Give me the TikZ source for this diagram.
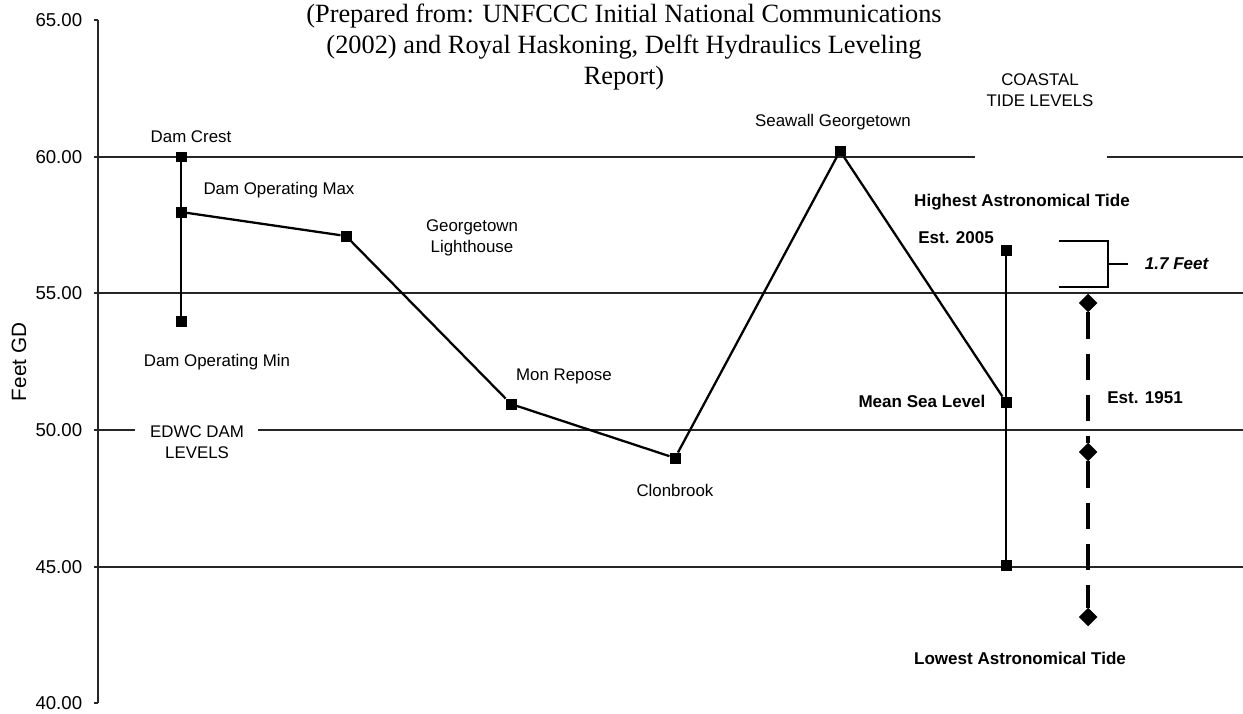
\documentclass[tikz,border=0pt]{standalone}
\usepackage{fontspec}
\setmainfont{Liberation Serif}
\setsansfont{Liberation Sans}
\usetikzlibrary{positioning}
\usetikzlibrary{shapes.geometric}

\begin{document}
\begin{tikzpicture}[x=0.02cm,y=-0.02cm,
    every node/.style={inner sep=0.5,outer sep=0,font=\sffamily\fontsize{9.6}{12.3}\selectfont},
    sq/.style={fill=black,minimum size=0.22cm,inner sep=0},
    dia/.style={diamond,fill=black,minimum size=0.37cm,inner sep=0},
    bold/.style={font=\sffamily\bfseries\fontsize{9.7}{12}\selectfont},
    ticklbl/.style={anchor=east,font=\sffamily\fontsize{10.6}{12}\selectfont},
    grid/.style={line width=0.7pt,black!85},
    series/.style={line width=1.3pt}]
    \useasboundingbox (0,0) rectangle (1243,713);

    % axis, ticks and grid
    \draw[grid] (98,20) -- (98,703);
    \foreach \v/\py in {65.00/20,60.00/157,55.00/293,50.00/430,45.00/567,40.00/703}{
        \draw[grid] (94,\py) -- (98,\py);
        \node[ticklbl] at (83,\py) {\v};
    }
    \draw[grid] (98,157) -- (975,157) (1107,157) -- (1243,157);
    \draw[grid] (98,293) -- (1243,293);
    \draw[grid] (98,430) -- (135,430) (258,430) -- (1243,430);
    \draw[grid] (98,567) -- (1243,567);
    \node[rotate=90,font=\sffamily\fontsize{11.8}{12}\selectfont] (yax) at (19,362) {Feet GD};

    % title
    \node[align=center,font=\rmfamily\fontsize{15}{17.6}\selectfont] (title) at (624,47)
        {(Prepared from: UNFCCC Initial National Communications\\
         (2002) and Royal Haskoning, Delft Hydraulics Leveling\\
         Report)};

    % data points
    \node[sq] (crest) at (181,157) {};
    \node[sq] (opmax) at (181,212) {};
    \node[sq] (opmin) at (181,321) {};
    \node[sq] (light) at (346,236) {};
    \node[sq] (repose) at (511,404) {};
    \node[sq] (clon) at (675,458) {};
    \node[sq] (seawall) at (840,151) {};
    \node[sq] (msl) at (1006,402) {};
    \node[sq] (hat) at (1006,250) {};
    \node[sq] (lat) at (1006,565) {};
    \node[dia] (D1) at (1088,303) {};
    \node[dia] (D2) at (1088,452) {};
    \node[dia] (D3) at (1088,617) {};

    \draw[line width=0.9pt] (crest) -- (opmax) -- (opmin);
    \draw[series] (opmax) -- (light) -- (repose) -- (clon) -- (seawall) -- (msl);
    \draw[line width=1pt] (hat) -- (msl) -- (lat);
    \draw[line width=2.3pt,dash pattern=on 15pt off 8.5pt] (D1) -- (D2);
    \draw[line width=2.3pt,dash pattern=on 15pt off 8.5pt] (D2) -- (D3);

    % bracket
    \coordinate (bt) at (1059,241);
    \coordinate (bb) at (1059,287);
    \coordinate (bmid) at (1108,264);
    \coordinate (btip) at (1128,264);
    \draw[line width=1pt] (bt) -| (bmid) |- (bb);
    \draw[line width=1pt] (bmid) -- (btip);
    \node[font=\sffamily\bfseries\itshape\fontsize{9.7}{12}\selectfont,right=0.32cm of btip] (tfeet) {1.7 Feet};

    % labels
    \node (tcrest) at (191,137) {Dam Crest};
    \node (tmax) at (279,190) {Dam Operating Max};
    \node (tmin) at (217,362) {Dam Operating Min};
    \node[align=center] (tedwc) at (197,442) {EDWC DAM\\LEVELS};
    \node[align=center] (tlight) at (472,238) {Georgetown\\Lighthouse};
    \node (trepose) at (564,376) {Mon Repose};
    \node (tclon) at (675,490) {Clonbrook};
    \node (tsea) at (833,122) {Seawall Georgetown};
    \node[align=center] (tcoast) at (1040,90) {COASTAL\\TIDE LEVELS};
    \node[bold] (thigh) at (1022,202) {Highest Astronomical Tide};
    \node[bold] (t2005) at (956,238) {Est. 2005};
    \node[bold] (tmsl) at (922,401) {Mean Sea Level};
    \node[bold] (t1951) at (1145,398) {Est. 1951};
    \node[bold] (tlow) at (1020,658) {Lowest Astronomical Tide};
\end{tikzpicture}
\end{document}
